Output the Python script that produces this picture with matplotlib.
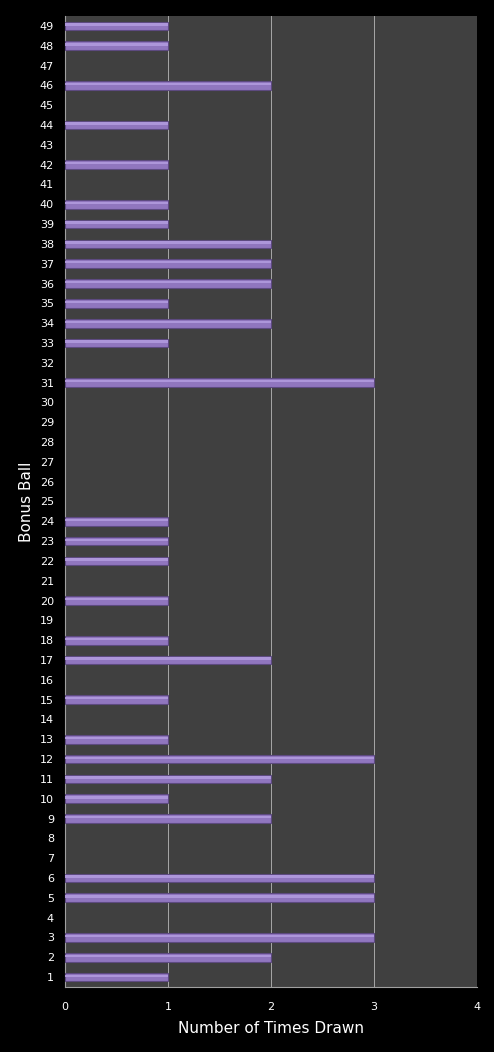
import numpy as np
import matplotlib
matplotlib.use("Agg")
import matplotlib.pyplot as plt

balls = list(range(1, 50))
times_drawn = [1, 2, 3, 0, 3, 3, 0, 0, 2, 1,
               2, 3, 1, 0, 1, 0, 2, 1, 0, 1,
               0, 1, 1, 1, 0, 0, 0, 0, 0, 0,
               3, 0, 1, 2, 1, 2, 2, 2, 1, 1,
               0, 1, 0, 1, 0, 2, 0, 1, 1]

b = np.array(balls)
t = np.array(times_drawn)
drawn = t > 0  # skip zero bars so their edges don't leave specks

fig = plt.figure(figsize=(4.94, 10.52), dpi=100, facecolor="black")
ax = fig.add_axes([0.1316, 0.0618, 0.834, 0.923])
ax.set_facecolor("#404040")

# main bar plus a lighter strip on top for the glossy look
ax.barh(b[drawn], t[drawn], height=0.44, color="#9076bf", edgecolor="#5d4a80", linewidth=0.8, zorder=3)
ax.barh(b[drawn] + 0.07, t[drawn], height=0.12, color="#ad96da", linewidth=0, zorder=4)

ax.set_xlim(0, 4)
ax.set_ylim(0.5, 49.5)
ax.set_xticks(range(0, 5))
ax.set_yticks(balls)
ax.grid(axis="x", color="#a8a8a8", linewidth=0.7, zorder=1)

for s in ax.spines.values():
    s.set_visible(False)
ax.spines["bottom"].set_visible(True)
ax.spines["bottom"].set_color("#a0a0a0")
ax.spines["left"].set_visible(True)
ax.spines["left"].set_color("#a0a0a0")

ax.tick_params(colors="white", labelsize=8, length=0, pad=8)
ax.tick_params(axis="x", pad=11)
ax.set_xlabel("Number of Times Drawn", color="white", fontsize=11, labelpad=6)
ax.set_ylabel("Bonus Ball", color="white", fontsize=11, labelpad=4)

fig.savefig("out.png", dpi=100, facecolor="black")
